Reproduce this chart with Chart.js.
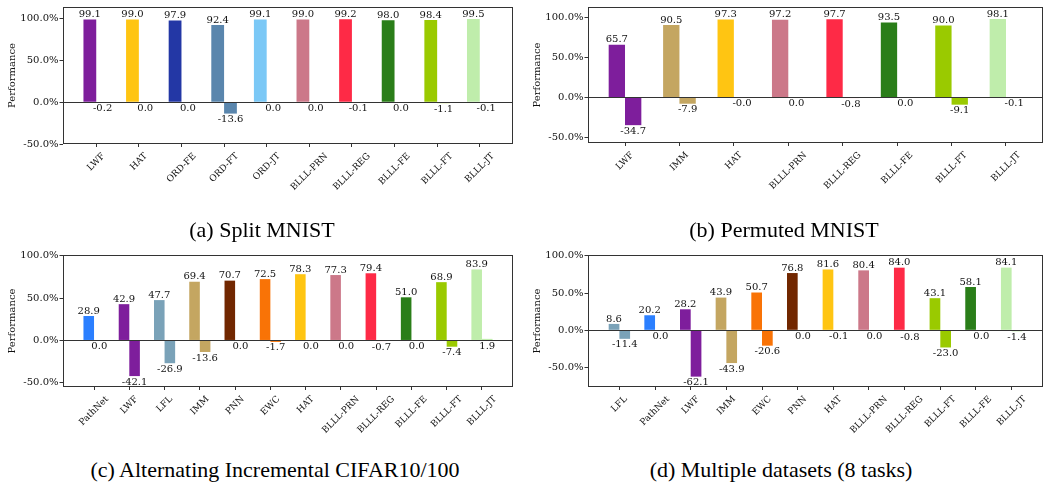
<!DOCTYPE html>
<html>
<head>
<meta charset="utf-8">
<script src="https://cdn.jsdelivr.net/npm/chart.js@4.4.1/dist/chart.umd.min.js"></script>
<style>
  html, body { margin: 0; padding: 0; background: #fff; }
  #wrap { position: relative; width: 1044px; height: 482px; overflow: hidden; }
  canvas { position: absolute; }
  .cap {
    position: absolute;
    font-family: "Liberation Serif", "Times New Roman", serif;
    font-size: 22px;
    line-height: 22px;
    color: #000;
    white-space: nowrap;
    transform: translateX(-50%);
  }
</style>
</head>
<body>
<div id="wrap">
  <canvas id="chartA" width="522" height="205" style="left:0;top:0"></canvas>
  <canvas id="chartB" width="522" height="205" style="left:522px;top:0"></canvas>
  <canvas id="chartC" width="522" height="210" style="left:0;top:240px"></canvas>
  <canvas id="chartD" width="522" height="210" style="left:522px;top:240px"></canvas>
  <div class="cap" style="left:262px;top:219px">(a) Split MNIST</div>
  <div class="cap" style="left:784px;top:219px">(b) Permuted MNIST</div>
  <div class="cap" style="left:275px;top:459px">(c) Alternating Incremental CIFAR10/100</div>
  <div class="cap" style="left:781px;top:459px">(d) Multiple datasets (8 tasks)</div>
</div>
<script>
// (a) Split MNIST
const methodsA = ['LWF', 'HAT', 'ORD-FE', 'ORD-FT', 'ORD-JT', 'BLLL-PRN', 'BLLL-REG', 'BLLL-FE', 'BLLL-FT', 'BLLL-JT'];
const accA = [99.1, 99.0, 97.9, 92.4, 99.1, 99.0, 99.2, 98.0, 98.4, 99.5];
const bwtA = [-0.2, 0.0, 0.0, -13.6, 0.0, 0.0, -0.1, 0.0, -1.1, -0.1];

// (b) Permuted MNIST
const methodsB = ['LWF', 'IMM', 'HAT', 'BLLL-PRN', 'BLLL-REG', 'BLLL-FE', 'BLLL-FT', 'BLLL-JT'];
const accB = [65.7, 90.5, 97.3, 97.2, 97.7, 93.5, 90.0, 98.1];
const bwtB = [-34.7, -7.9, -0.02, 0.0, -0.8, 0.0, -9.1, -0.1];

// (c) Alternating Incremental CIFAR10/100
const methodsC = ['PathNet', 'LWF', 'LFL', 'IMM', 'PNN', 'EWC', 'HAT', 'BLLL-PRN', 'BLLL-REG', 'BLLL-FE', 'BLLL-FT', 'BLLL-JT'];
const accC = [28.9, 42.9, 47.7, 69.4, 70.7, 72.5, 78.3, 77.3, 79.4, 51.0, 68.9, 83.9];
const bwtC = [0.0, -42.1, -26.9, -13.6, 0.0, -1.7, 0.0, 0.0, -0.7, 0.0, -7.4, 1.9];

// (d) Multiple datasets (8 tasks)
const methodsD = ['LFL', 'PathNet', 'LWF', 'IMM', 'EWC', 'PNN', 'HAT', 'BLLL-PRN', 'BLLL-REG', 'BLLL-FT', 'BLLL-FE', 'BLLL-JT'];
const accD = [8.6, 20.2, 28.2, 43.9, 50.7, 76.8, 81.6, 80.4, 84.0, 43.1, 58.1, 84.1];
const bwtD = [-11.4, 0.0, -62.1, -43.9, -20.6, 0.0, -0.1, 0.0, -0.8, -23.0, 0.0, -1.4];

const yTicks = [-50, 0, 50, 100];

// one colour per method, shared by both bars of a pair
const methodColors = {
    'LWF': '#7e1e9c',
    'HAT': '#ffc512',
    'ORD-FE': '#2337a5',
    'ORD-FT': '#5a86ad',
    'ORD-JT': '#7bc8f6',
    'BLLL-PRN': '#cc7889',
    'BLLL-REG': '#fe2a46',
    'BLLL-FE': '#2a7e19',
    'BLLL-FT': '#9aca00',
    'BLLL-JT': '#bfedab',
    'IMM': '#c4a661',
    'PathNet': '#2b7fff',
    'LFL': '#7aa2b8',
    'PNN': '#712700',
    'EWC': '#f97306'
};

const SERIF = '"DejaVu Serif", serif';
const INK = '#111';

// box frame, zero line, value labels and rotated category labels
const decorPlugin = {
    id: 'decor',
    afterDatasetsDraw(chart) {
        const { ctx, chartArea: a, scales } = chart;
        ctx.save();
        ctx.strokeStyle = '#333';
        ctx.lineWidth = 1;
        const y0 = Math.round(scales.y.getPixelForValue(0)) + 0.5;
        ctx.beginPath();
        ctx.moveTo(a.left, y0);
        ctx.lineTo(a.right, y0);
        ctx.stroke();
        ctx.strokeRect(a.left + 0.5, a.top + 0.5, a.right - a.left - 1, a.bottom - a.top - 1);

        ctx.font = '10px ' + SERIF;
        ctx.fillStyle = INK;
        ctx.textAlign = 'center';
        chart.data.datasets.forEach((ds, d) => {
            chart.getDatasetMeta(d).data.forEach((bar, i) => {
                const txt = ds.data[i].y.toFixed(1);
                if (d === 0) {
                    ctx.textBaseline = 'bottom';
                    ctx.fillText(txt, bar.x, Math.min(bar.y, bar.base));
                } else {
                    ctx.textBaseline = 'top';
                    ctx.fillText(txt, bar.x, Math.max(bar.y, bar.base) + 1);
                }
            });
        });
        ctx.restore();
    },
    afterDraw(chart) {
        const { ctx, chartArea: a } = chart;
        const xs = chart.scales.x;
        ctx.save();
        ctx.font = '9px ' + SERIF;
        ctx.fillStyle = INK;
        ctx.textAlign = 'center';
        ctx.textBaseline = 'middle';
        xs.ticks.forEach(t => {
            const label = chart.data.labels[t.value];
            const w = ctx.measureText(label).width;
            const half = (w + 9 * 1.16) * Math.SQRT1_2 / 2;
            ctx.save();
            ctx.translate(xs.getPixelForValue(t.value), a.bottom + 7 + half);
            ctx.rotate(-Math.PI / 4);
            ctx.fillText(label, 0, 0);
            ctx.restore();
        });
        ctx.restore();
    }
};

function makeChart(id, methods, acc, bwt, yMin, yMax, box) {
    const el = document.getElementById(id);
    const W = el.width, H = el.height;
    const n = methods.length;
    const margin = 0.3 + 0.05 * (n - 1 + 0.6);
    const colors = methods.map(m => methodColors[m]);
    new Chart(el, {
        type: 'bar',
        data: {
            labels: methods,
            datasets: [
                { label: 'ACC', data: acc.map((v, i) => ({ x: i, y: v })), backgroundColor: colors, borderWidth: 0 },
                { label: 'BWT', data: bwt.map((v, i) => ({ x: i, y: v })), backgroundColor: colors, borderWidth: 0 }
            ]
        },
        options: {
            responsive: false,
            animation: false,
            devicePixelRatio: 1,
            categoryPercentage: 0.6,
            barPercentage: 1.0,
            layout: { padding: { left: 0, top: box.top, right: W - box.right, bottom: 0 } },
            plugins: { legend: { display: false }, tooltip: { enabled: false } },
            scales: {
                x: {
                    type: 'linear',
                    min: -margin,
                    max: n - 1 + margin,
                    offset: false,
                    afterBuildTicks: s => { s.ticks = methods.map((_, i) => ({ value: i })); },
                    afterFit: s => { s.height = H - box.bottom; },
                    ticks: { display: false },
                    grid: { drawOnChartArea: false, tickLength: 3, color: '#333', offset: false },
                    border: { display: false }
                },
                y: {
                    min: yMin,
                    max: yMax,
                    afterBuildTicks: s => { s.ticks = yTicks.map(v => ({ value: v })); },
                    afterFit: s => { s.width = box.left; },
                    ticks: {
                        callback: v => v.toFixed(1) + '%',
                        font: { family: SERIF, size: 10 },
                        color: INK,
                        padding: 1
                    },
                    grid: { drawOnChartArea: false, tickLength: 3.5, color: '#333' },
                    border: { display: false },
                    title: {
                        display: true,
                        text: 'Performance',
                        font: { family: SERIF, size: 10 },
                        color: INK,
                        padding: { top: box.titlePad, bottom: 0 }
                    }
                }
            }
        },
        plugins: [decorPlugin]
    });
}

makeChart('chartA', methodsA, accA, bwtA, -50, 114, { left: 63, top: 7, right: 513, bottom: 144, titlePad: 6 });
makeChart('chartB', methodsB, accB, bwtB, -57, 113, { left: 66, top: 7, right: 521, bottom: 143, titlePad: 9 });
makeChart('chartC', methodsC, accC, bwtC, -55, 101, { left: 63, top: 15, right: 513, bottom: 147, titlePad: 6 });
makeChart('chartD', methodsD, accD, bwtD, -76, 101, { left: 66, top: 15, right: 521, bottom: 147, titlePad: 9 });
</script>
</body>
</html>
